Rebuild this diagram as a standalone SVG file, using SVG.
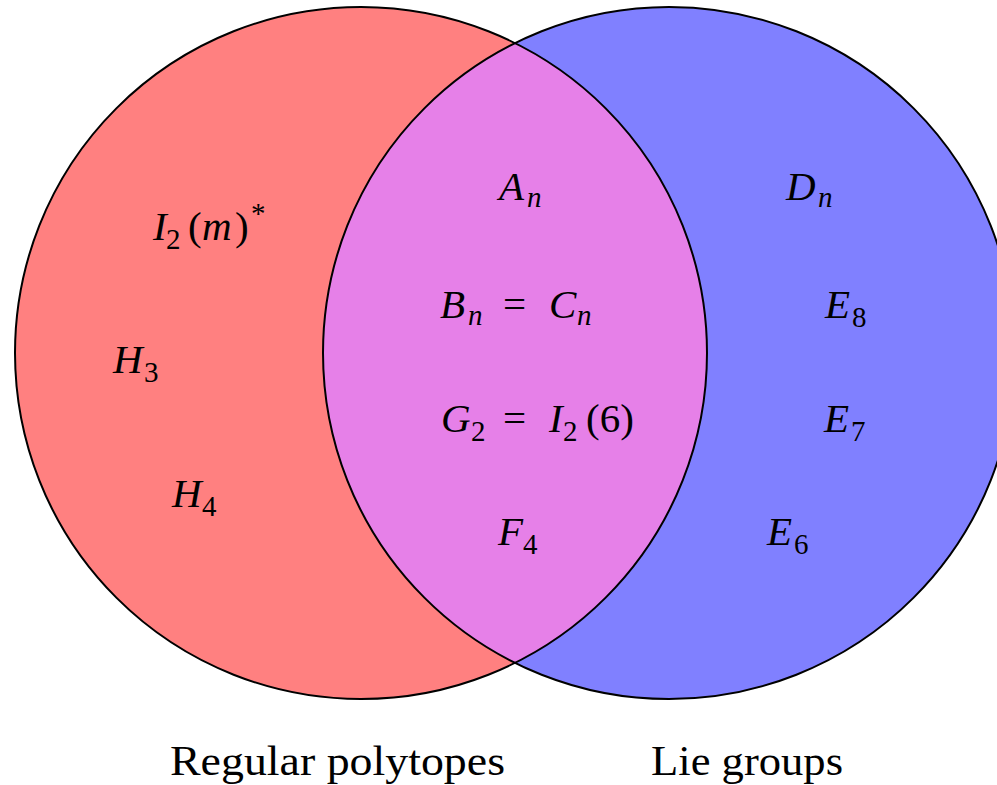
<svg xmlns="http://www.w3.org/2000/svg" width="997" height="785" viewBox="0 0 997 785">
<style>
text{font-family:"Liberation Serif","DejaVu Serif",serif;fill:#000}
.m{font-size:41px}
.i{font-style:italic}
.s{font-size:29px;font-style:normal}
.si{font-size:29px;font-style:italic}
.lbl{font-size:43px}
.out{fill:none;stroke:#000;stroke-width:2}
</style>
<rect width="997" height="785" fill="#fff"/>
<g id="sets">
<circle id="left" cx="361" cy="353" r="346" fill="#ff8080"/>
<circle id="right" cx="669" cy="353" r="346" fill="#8080ff"/>
<path id="both" d="M515,43.16 A346,346 0 0 1 515,662.84 A346,346 0 0 1 515,43.16 Z" fill="#e680e8"/>
<circle class="out" cx="361" cy="353" r="346"/>
<circle class="out" cx="669" cy="353" r="346"/>
</g>
<g id="labels-left">
<text class="m" y="240"><tspan class="i" x="153">I</tspan><tspan class="s" x="166" dy="9">2</tspan><tspan x="188" dy="-9">(</tspan><tspan class="i" x="202">m</tspan><tspan x="235">)</tspan><tspan class="s" x="251" dy="-17">*</tspan></text>
<text class="m" y="373"><tspan class="i" x="113">H</tspan><tspan class="s" x="144" dy="9">3</tspan></text>
<text class="m" y="507"><tspan class="i" x="172">H</tspan><tspan class="s" x="202" dy="9">4</tspan></text>
</g>
<g id="labels-mid">
<text class="m" y="200"><tspan class="i" x="499">A</tspan><tspan class="si" x="527" dy="7">n</tspan></text>
<text class="m" y="318"><tspan class="i" x="440">B</tspan><tspan class="si" x="468" dy="7">n</tspan><tspan x="503" dy="-7">=</tspan><tspan class="i" x="549">C</tspan><tspan class="si" x="577" dy="7">n</tspan></text>
<text class="m" y="432"><tspan class="i" x="441">G</tspan><tspan class="s" x="471" dy="9">2</tspan><tspan x="503" dy="-9">=</tspan><tspan class="i" x="549">I</tspan><tspan class="s" x="563" dy="9">2</tspan><tspan x="586" dy="-9">(6)</tspan></text>
<text class="m" y="545"><tspan class="i" x="498">F</tspan><tspan class="s" x="523" dy="9">4</tspan></text>
</g>
<g id="labels-right">
<text class="m" y="200"><tspan class="i" x="786">D</tspan><tspan class="si" x="818" dy="7">n</tspan></text>
<text class="m" y="318"><tspan class="i" x="825">E</tspan><tspan class="s" x="852" dy="9">8</tspan></text>
<text class="m" y="432"><tspan class="i" x="824">E</tspan><tspan class="s" x="851" dy="9">7</tspan></text>
<text class="m" y="545"><tspan class="i" x="767">E</tspan><tspan class="s" x="794" dy="9">6</tspan></text>
</g>
<g id="captions">
<text class="lbl" x="170" y="775" textLength="335" lengthAdjust="spacingAndGlyphs">Regular polytopes</text>
<text class="lbl" x="651" y="775" textLength="192" lengthAdjust="spacingAndGlyphs">Lie groups</text>
</g>
</svg>
